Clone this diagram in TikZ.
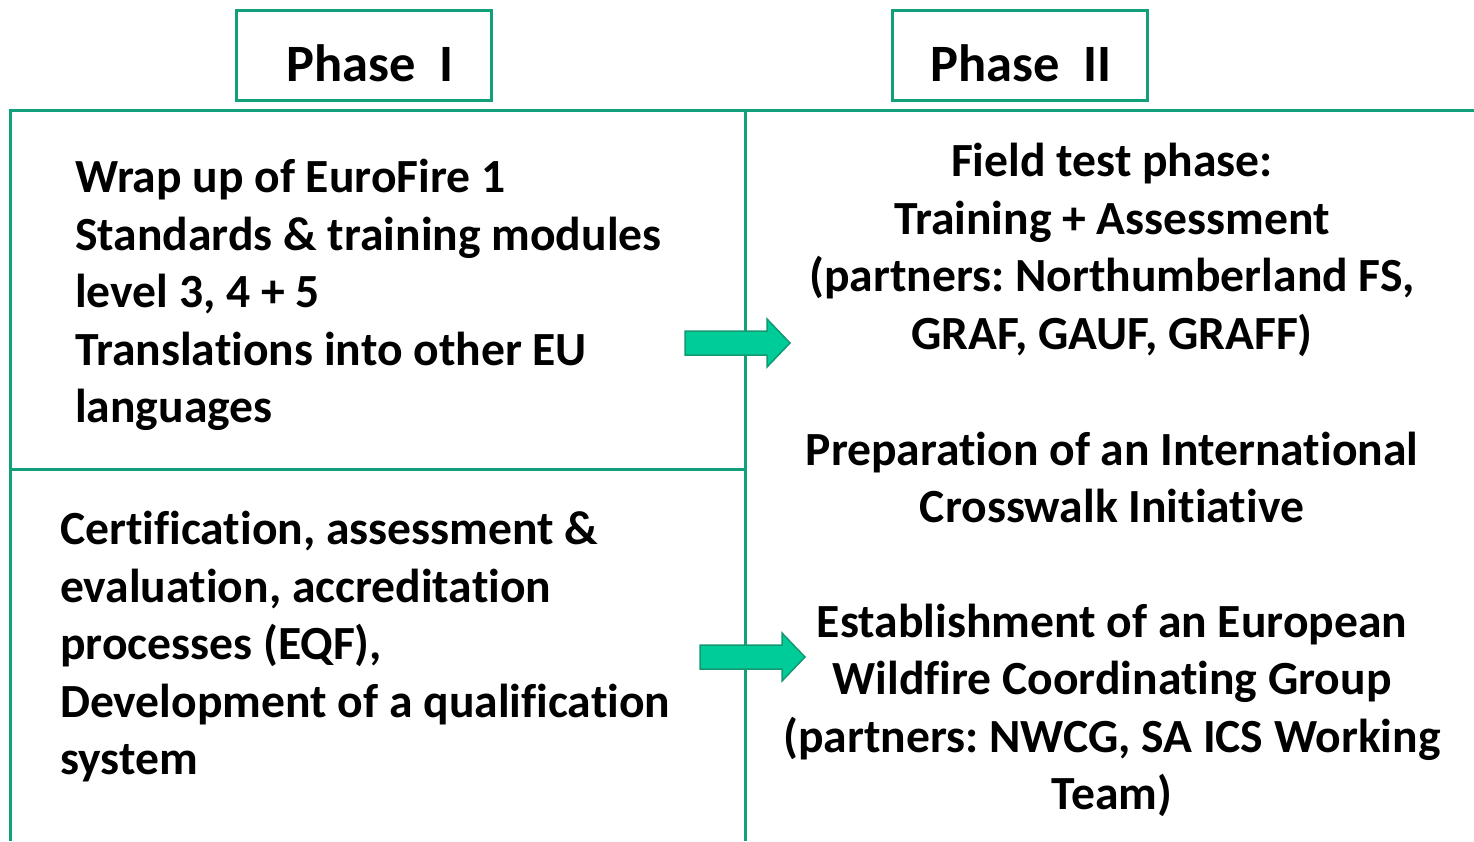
\documentclass[tikz,border=0pt]{standalone}
\usepackage{fontspec}
\setmainfont{Carlito}[Ligatures={NoCommon}]
\definecolor{lineg}{HTML}{12A07A}
\definecolor{arrfill}{HTML}{00CC99}
\definecolor{arrdraw}{HTML}{139970}
\tikzset{
  frame/.style={draw=lineg, line width=3pt},
  hdr/.style={draw=lineg, line width=2.5pt, minimum width=255pt, minimum height=90pt, anchor=north west, font=\fontsize{52.5}{60}\selectfont\bfseries, inner sep=0pt, text height=52pt, text depth=0pt},
  body/.style={inner sep=0pt, font=\frenchspacing\fontsize{47.6}{57.5}\selectfont\bfseries},
  blockarrow/.style={fill=arrfill, draw=arrdraw, line width=1.5pt, line join=miter}
}
\begin{document}
\begin{tikzpicture}[x=1pt,y=-1pt]
\useasboundingbox (0,0) rectangle (1474,841);
% frame lines
\draw[frame] (10,841) -- (10,110) -- (1474,110);
\draw[frame] (745,110) -- (745,841);
\draw[frame] (10,469) -- (745,469);
% headers
\node[hdr] (h1) at (235,9) {\hspace*{12pt}Phase~~I};
\node[hdr] (h2) at (891,9) {\hspace*{3pt}Phase~~II};
% left texts
\node[body, align=left, anchor=west] (t1) at (75,295) {Wrap up of EuroFire 1\\Standards \& training modules\\level 3, 4 + 5\\Translations into other EU\\languages};
\node[body, align=left, anchor=west] (t2) at (60,647) {Certification, assessment \&\\evaluation, accreditation\\processes (EQF),\\Development of a qualification\\system};
% right texts
\node[body, align=center] (r1) at (1112,250) {Field test phase:\\Training + Assessment\\(partners: Northumberland FS,\\GRAF, GAUF, GRAFF)};
\node[body, align=center] (r2) at (1112,477.5) {Preparation of an International\\Crosswalk Initiative};
\node[body, align=center] (r3) at (1112,710.5) {Establishment of an European\\Wildfire Coordinating Group\\(partners: NWCG, SA ICS Working\\Team)};
% block arrows
\draw[blockarrow] (685,331) -- (767,331) -- (767,319) -- (790,343) -- (767,367) -- (767,355) -- (685,355) -- cycle;
\draw[blockarrow] (700,645) -- (782,645) -- (782,633) -- (805,657) -- (782,681) -- (782,669) -- (700,669) -- cycle;
\end{tikzpicture}
\end{document}
